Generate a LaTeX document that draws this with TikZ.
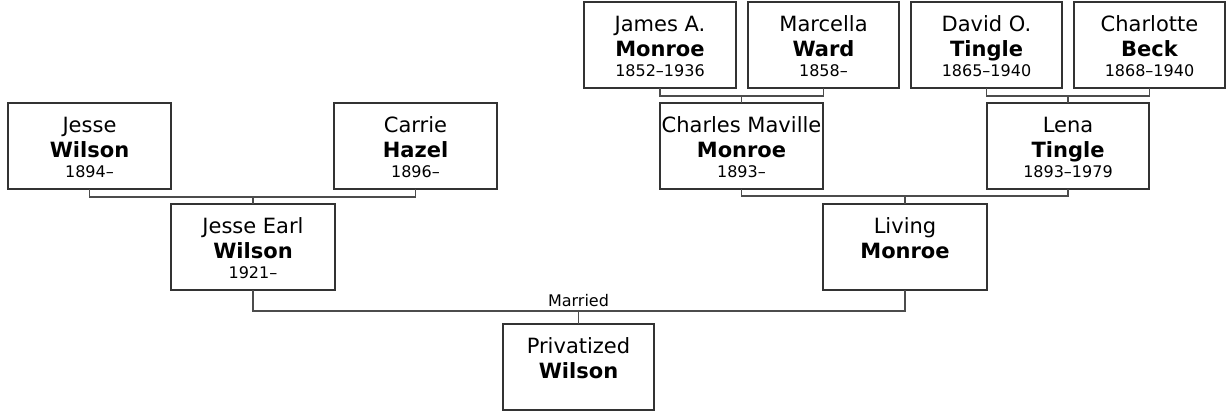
\documentclass[tikz,border=0pt]{standalone}
\usepackage{fontspec}
\setmainfont{DejaVu Sans}
\tikzset{
  pbox/.style={draw=black!80, line width=1.4pt, fill=white, minimum height=86pt, inner sep=0pt, outer sep=0pt},
  nm/.style={anchor=base, inner sep=0pt, font=\fontsize{21}{24}\selectfont},
  sn/.style={anchor=base, inner sep=0pt, font=\fontsize{21}{24}\selectfont\bfseries},
  dt/.style={anchor=base, inner sep=0pt, font=\fontsize{16}{19}\selectfont},
  conn/.style={draw=black!70, line width=1.8pt},
  lbl/.style={anchor=base, inner sep=0pt, font=\fontsize{16}{18}\selectfont}
}
\newcommand\person[7]{%
  \node[pbox, minimum width=#4pt] (#1) at (#2,#3) {};
  \node[nm] (#1-a) at ([yshift=-30pt]#1.north) {#5};
  \node[sn] (#1-b) at ([yshift=-55pt]#1.north) {#6};
  \node[dt] (#1-c) at ([yshift=-75pt]#1.north) {#7};
}
\newcommand\personnd[6]{%
  \node[pbox, minimum width=#4pt] (#1) at (#2,#3) {};
  \node[nm] (#1-a) at ([yshift=-30pt]#1.north) {#5};
  \node[sn] (#1-b) at ([yshift=-55pt]#1.north) {#6};
}
\begin{document}
\begin{tikzpicture}[x=1pt, y=-1pt]
\useasboundingbox (0,0) rectangle (1227,411);
\person{jw}{89.5}{146}{163}{Jesse}{Wilson}{1894–}
\person{ch}{415.5}{146}{163}{Carrie}{Hazel}{1896–}
\person{jew}{253}{247}{164}{Jesse Earl}{Wilson}{1921–}
\person{jam}{660}{45}{152}{James A.}{Monroe}{1852–1936}
\person{mw}{823.5}{45}{151}{Marcella}{Ward}{1858–}
\person{dot}{986.5}{45}{151}{David O.}{Tingle}{1865–1940}
\person{cb}{1149.5}{45}{151}{Charlotte}{Beck}{1868–1940}
\person{cmm}{741.5}{146}{163}{Charles Maville}{Monroe}{1893–}
\person{lt}{1068}{146}{162}{Lena}{Tingle}{1893–1979}
\personnd{lm}{905}{247}{164}{Living}{Monroe}
\personnd{pw}{578.5}{367}{151}{Privatized}{Wilson}
\draw[conn] (jam.south) -- ++(0,8) -| (mw.south);
\draw[conn] (cmm.north) -- ++(0,-7);
\draw[conn] (dot.south) -- ++(0,8) -| (cb.south);
\draw[conn] (lt.north) -- ++(0,-7);
\draw[conn] (jw.south) -- ++(0,8) -| (ch.south);
\draw[conn] (jew.north) -- ++(0,-7);
\draw[conn] (cmm.south) -- ++(0,7) -| (lt.south);
\draw[conn] (lm.north) -- ++(0,-8);
\draw[conn] (jew.south) -- ++(0,21) -| (lm.south);
\draw[conn] (pw.north) -- ++(0,-13);
\node[lbl] (married) at ([yshift=17pt]pw.north) {Married};
\end{tikzpicture}
\end{document}
